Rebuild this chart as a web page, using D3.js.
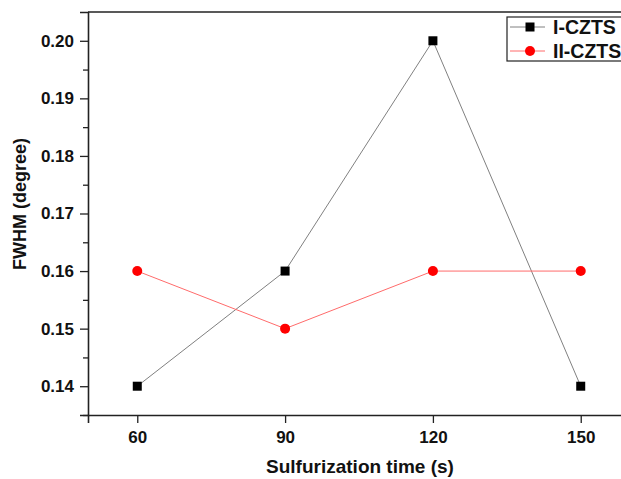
<!DOCTYPE html>
<html>
<head>
<meta charset="utf-8">
<script src="https://cdn.jsdelivr.net/npm/d3@7"></script>
<style>
  body { margin: 0; background: #fff; }
  text { font-family: Arial, "Liberation Sans", sans-serif; font-weight: bold; fill: #111; }
</style>
</head>
<body>
<div id="chart"></div>
<script>
var times = [60, 90, 120, 150];
var seriesI = [0.14, 0.16, 0.20, 0.14];
var seriesII = [0.16, 0.15, 0.16, 0.16];
var xTicks = [60, 90, 120, 150];
var yTicks = [0.14, 0.15, 0.16, 0.17, 0.18, 0.19, 0.20];
var yMinor = [0.135, 0.145, 0.155, 0.165, 0.175, 0.185, 0.195];

var margin = { top: 12, left: 88, bottom: 64, right: 0 },
    width = 542,
    height = 415 - margin.top;

var svg = d3.select('#chart').append('svg')
    .attr('width', 621)
    .attr('height', 479)
    .append('g')
    .attr('transform', 'translate(' + margin.left + ', ' + margin.top + ')');

var x = d3.scaleLinear().domain([50, 160]).range([0, width]);
var y = d3.scaleLinear().domain([0.135, 0.205]).range([height, 0]);

// minor ticks on y
svg.append('g')
    .attr('class', 'y_minor')
    .call(d3.axisLeft(y).tickValues(yMinor).tickSize(5).tickFormat(''))
    .call(function (g) { g.select('.domain').remove(); })
    .selectAll('line').attr('stroke', '#222').attr('stroke-width', 1.3);

// y axis
var yAxis = d3.axisLeft(y).tickValues(yTicks).tickSize(8).tickPadding(6)
    .tickFormat(d3.format('.2f'));
svg.append('g')
    .attr('class', 'y_axis')
    .call(yAxis)
    .call(function (g) {
        g.select('.domain').attr('stroke', '#222').attr('stroke-width', 1.6);
        g.selectAll('line').attr('stroke', '#222').attr('stroke-width', 1.3);
        g.selectAll('text').style('font-size', '17px').attr('fill', '#111');
    });

// x axis
var xAxis = d3.axisBottom(x).tickValues(xTicks).tickSize(8).tickPadding(8);
svg.append('g')
    .attr('class', 'x_axis')
    .attr('transform', 'translate(0,' + height + ')')
    .call(xAxis)
    .call(function (g) {
        g.select('.domain').attr('stroke', '#222').attr('stroke-width', 1.6);
        g.selectAll('line').attr('stroke', '#222').attr('stroke-width', 1.3);
        g.selectAll('text').style('font-size', '17px').attr('fill', '#111');
    });

// top frame line
svg.append('line')
    .attr('x1', 0).attr('x2', width)
    .attr('y1', 0).attr('y2', 0)
    .attr('stroke', '#222').attr('stroke-width', 1.6);

// lines
var line = d3.line()
    .x(function (d) { return x(d[0]); })
    .y(function (d) { return y(d[1]); });

var dataI = times.map(function (t, i) { return [t, seriesI[i]]; });
var dataII = times.map(function (t, i) { return [t, seriesII[i]]; });

svg.append('path').datum(dataI)
    .attr('d', line).attr('fill', 'none')
    .attr('stroke', '#808080').attr('stroke-width', 1);

svg.append('path').datum(dataII)
    .attr('d', line).attr('fill', 'none')
    .attr('stroke', '#ff6b6b').attr('stroke-width', 1);

svg.selectAll('.sq').data(dataI).enter().append('rect')
    .attr('class', 'sq')
    .attr('x', function (d) { return x(d[0]) - 4.5; })
    .attr('y', function (d) { return y(d[1]) - 4.5; })
    .attr('width', 9).attr('height', 9)
    .attr('fill', '#000');

svg.selectAll('.dot').data(dataII).enter().append('circle')
    .attr('class', 'dot')
    .attr('cx', function (d) { return x(d[0]); })
    .attr('cy', function (d) { return y(d[1]); })
    .attr('r', 5)
    .attr('fill', '#ff0000');

// axis titles
svg.append('text')
    .attr('x', 272)
    .attr('y', 473 - margin.top)
    .attr('text-anchor', 'middle')
    .style('font-size', '19px')
    .text('Sulfurization time (s)');

svg.append('text')
    .attr('transform', 'rotate(-90)')
    .attr('x', -(204 - margin.top))
    .attr('y', -margin.left + 26)
    .attr('text-anchor', 'middle')
    .style('font-size', '18px')
    .text('FWHM (degree)');

// legend
var legend = svg.append('g')
    .attr('transform', 'translate(' + (507 - margin.left) + ',' + (17 - margin.top) + ')');

legend.append('rect')
    .attr('x', 0).attr('y', 0)
    .attr('width', 130).attr('height', 44)
    .attr('fill', '#fff').attr('stroke', '#222').attr('stroke-width', 1.2);

var legendItems = [
    { name: 'I-CZTS', color: '#808080', marker: 'square' },
    { name: 'II-CZTS', color: '#ff6b6b', marker: 'circle' }
];

legendItems.forEach(function (d, i) {
    var cy = 10 + i * 24;
    legend.append('line')
        .attr('x1', 3).attr('x2', 38)
        .attr('y1', cy).attr('y2', cy)
        .attr('stroke', d.color).attr('stroke-width', 1);
    if (d.marker === 'square') {
        legend.append('rect')
            .attr('x', 23 - 4.5).attr('y', cy - 4.5)
            .attr('width', 9).attr('height', 9)
            .attr('fill', '#000');
    } else {
        legend.append('circle')
            .attr('cx', 23).attr('cy', cy).attr('r', 5)
            .attr('fill', '#ff0000');
    }
    legend.append('text')
        .attr('x', 46).attr('y', cy)
        .attr('dy', '0.36em')
        .style('font-size', '19.5px')
        .text(d.name);
});
</script>
</body>
</html>
